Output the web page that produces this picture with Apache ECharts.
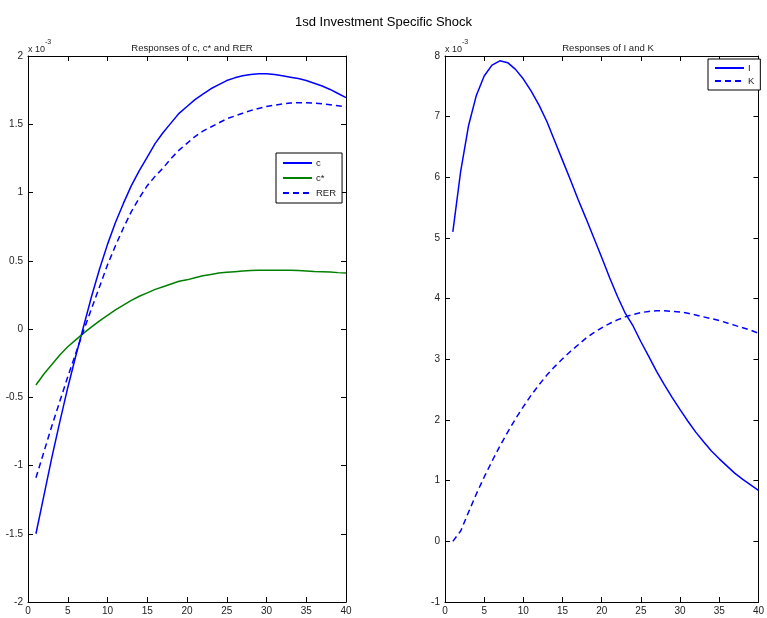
<!DOCTYPE html>
<html>
<head>
<meta charset="utf-8">
<script src="https://cdn.jsdelivr.net/npm/echarts@6/dist/echarts.min.js"></script>
<style>
html,body{margin:0;padding:0;background:#fff;}
#chart{width:767px;height:618px;}
</style>
</head>
<body>
<div id="chart"></div>
<script>
const periods = [1,2,3,4,5,6,7,8,9,10,11,12,13,14,15,16,17,18,19,20,21,22,23,24,25,26,27,28,29,30,31,32,33,34,35,36,37,38,39,40];

// Left panel (x 10^-3)
const cValues = [-1.50,-1.22,-0.94,-0.68,-0.43,-0.20,0.02,0.24,0.44,0.62,0.78,0.92,1.05,1.16,1.26,1.36,1.44,1.51,1.58,1.63,1.68,1.72,1.76,1.79,1.82,1.84,1.855,1.865,1.87,1.87,1.865,1.855,1.845,1.835,1.82,1.80,1.78,1.755,1.725,1.695];
const cStarValues = [-0.41,-0.33,-0.26,-0.19,-0.13,-0.08,-0.03,0.015,0.06,0.10,0.14,0.175,0.21,0.24,0.265,0.29,0.31,0.33,0.35,0.36,0.375,0.39,0.40,0.41,0.415,0.42,0.425,0.428,0.43,0.43,0.43,0.43,0.43,0.428,0.425,0.422,0.42,0.417,0.413,0.41];
const rerValues = [-1.09,-0.90,-0.71,-0.53,-0.35,-0.18,-0.01,0.15,0.31,0.47,0.61,0.74,0.86,0.96,1.05,1.12,1.18,1.25,1.31,1.36,1.41,1.45,1.48,1.51,1.54,1.56,1.58,1.60,1.615,1.63,1.64,1.648,1.655,1.658,1.658,1.655,1.65,1.643,1.635,1.627];

// Right panel (x 10^-3)
const iValues = [5.10,6.10,6.85,7.35,7.67,7.85,7.92,7.89,7.78,7.62,7.42,7.19,6.92,6.60,6.28,5.96,5.63,5.32,5.00,4.68,4.35,4.04,3.76,3.55,3.29,3.05,2.80,2.58,2.37,2.17,1.98,1.80,1.64,1.49,1.36,1.24,1.12,1.02,0.93,0.84];
const kValues = [0.00,0.17,0.48,0.78,1.06,1.32,1.57,1.80,2.02,2.22,2.41,2.58,2.74,2.88,3.01,3.13,3.24,3.35,3.44,3.52,3.59,3.65,3.70,3.74,3.77,3.79,3.80,3.80,3.79,3.78,3.76,3.73,3.70,3.67,3.64,3.60,3.56,3.52,3.48,3.43];

const mainTitle = '1sd Investment Specific Shock';
const leftTitle = 'Responses of c, c* and RER';
const rightTitle = 'Responses of I and K';

const FONT = '"Liberation Sans", Arial, sans-serif';
const pair = (vals) => periods.map((p, i) => [p, vals[i]]);

function xAxes(gridIndex) {
  return [
    {gridIndex, type:'value', min:0, max:40, interval:5, position:'bottom',
     axisLine:{show:true, onZero:false, lineStyle:{color:'#000', width:1}},
     axisTick:{show:true, inside:true, length:5, lineStyle:{color:'#000'}},
     axisLabel:{color:'#222', fontSize:10, fontFamily:FONT, margin:4,
       showMinLabel:true, showMaxLabel:true},
     splitLine:{show:false}},
    {gridIndex, type:'value', min:0, max:40, interval:5, position:'top',
     axisLine:{show:true, onZero:false, lineStyle:{color:'#000', width:1}},
     axisTick:{show:true, inside:true, length:5, lineStyle:{color:'#000'}},
     axisLabel:{show:false}, splitLine:{show:false}}
  ];
}
function yAxes(gridIndex, min, max, interval) {
  return [
    {gridIndex, type:'value', min, max, interval, position:'left',
     axisLine:{show:true, onZero:false, lineStyle:{color:'#000', width:1}},
     axisTick:{show:true, inside:true, length:5, lineStyle:{color:'#000'}},
     axisLabel:{color:'#222', fontSize:10, fontFamily:FONT, margin:5,
       showMinLabel:true, showMaxLabel:true},
     splitLine:{show:false}},
    {gridIndex, type:'value', min, max, interval, position:'right',
     axisLine:{show:true, onZero:false, lineStyle:{color:'#000', width:1}},
     axisTick:{show:true, inside:true, length:5, lineStyle:{color:'#000'}},
     axisLabel:{show:false}, splitLine:{show:false}}
  ];
}

const legendCommon = {
  orient:'vertical', itemWidth:29, itemHeight:8,
  borderColor:'#000', borderWidth:1, backgroundColor:'#fff', borderRadius:0,
  itemStyle:{opacity:0},
  textStyle:{fontSize:9.5, color:'#222', fontFamily:FONT, padding:[0,0,0,-1]},
  selectedMode:false
};

const chart = echarts.init(document.getElementById('chart'), null, {renderer:'canvas'});
const option = {
  backgroundColor:'#fff',
  animation:false,
  title:[
    {text:mainTitle, left:'center', top:11, textStyle:{fontSize:13, fontWeight:'normal', color:'#000', fontFamily:FONT}},
    {text:leftTitle, left:187, textAlign:'center', top:38, textStyle:{fontSize:9.6, fontWeight:'normal', color:'#222', fontFamily:FONT}},
    {text:rightTitle, left:603, textAlign:'center', top:38, textStyle:{fontSize:9.6, fontWeight:'normal', color:'#222', fontFamily:FONT}}
  ],
  grid:[
    {left:28, right:421, top:56, bottom:16},
    {left:445, right:5, top:56, bottom:16}
  ],
  xAxis:[...xAxes(0), ...xAxes(1)],
  yAxis:[...yAxes(0, -2, 2, 0.5), ...yAxes(1, -1, 8, 1)],
  legend:[
    Object.assign({}, legendCommon, {data:['c','c*','RER'], left:276, top:153, itemGap:5, padding:[5,6,5,6]}),
    Object.assign({}, legendCommon, {data:['I','K'], left:708, top:59, itemGap:3, padding:[4,6,4,6]})
  ],
  graphic:[
    {type:'text', left:28, top:39, style:{rich:{a:{fontSize:9, fill:'#222', fontFamily:FONT, padding:[6,0,0,0]}, b:{fontSize:7, fill:'#222', fontFamily:FONT, verticalAlign:'top'}}, text:'{a|x 10}{b|-3}'}},
    {type:'text', left:445, top:39, style:{rich:{a:{fontSize:9, fill:'#222', fontFamily:FONT, padding:[6,0,0,0]}, b:{fontSize:7, fill:'#222', fontFamily:FONT, verticalAlign:'top'}}, text:'{a|x 10}{b|-3}'}}
  ],
  series:[
    {name:'c', type:'line', xAxisIndex:0, yAxisIndex:0, data:pair(cValues), showSymbol:false, symbol:'none',
     lineStyle:{color:'#0000ff', width:1.5}, itemStyle:{color:'#0000ff'}},
    {name:'c*', type:'line', xAxisIndex:0, yAxisIndex:0, data:pair(cStarValues), showSymbol:false, symbol:'none',
     lineStyle:{color:'#008000', width:1.5}, itemStyle:{color:'#008000'}},
    {name:'RER', type:'line', xAxisIndex:0, yAxisIndex:0, data:pair(rerValues), showSymbol:false, symbol:'none',
     lineStyle:{color:'#0000ff', width:1.5, type:[6,4]}, itemStyle:{color:'#0000ff'}},
    {name:'I', type:'line', xAxisIndex:2, yAxisIndex:2, data:pair(iValues), showSymbol:false, symbol:'none',
     lineStyle:{color:'#0000ff', width:1.5}, itemStyle:{color:'#0000ff'}},
    {name:'K', type:'line', xAxisIndex:2, yAxisIndex:2, data:pair(kValues), showSymbol:false, symbol:'none',
     lineStyle:{color:'#0000ff', width:1.5, type:[6,4]}, itemStyle:{color:'#0000ff'}}
  ]
};
chart.setOption(option);
</script>
</body>
</html>
